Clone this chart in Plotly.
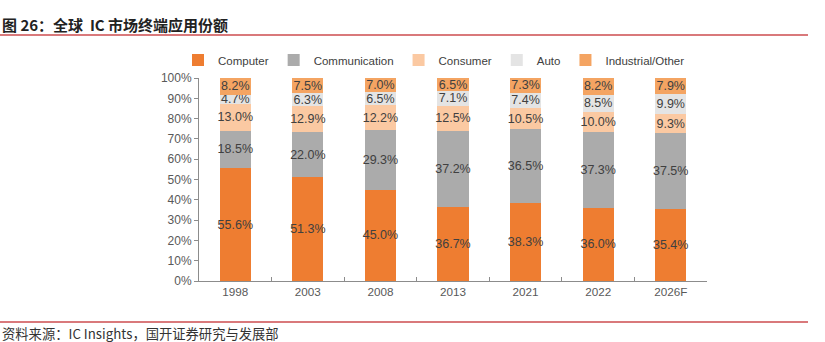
import plotly.graph_objects as go

years = ["1998", "2003", "2008", "2013", "2021", "2022", "2026F"]
computer = [55.6, 51.3, 45.0, 36.7, 38.3, 36.0, 35.4]
communication = [18.5, 22.0, 29.3, 37.2, 36.5, 37.3, 37.5]
consumer = [13.0, 12.9, 12.2, 12.5, 10.5, 10.0, 9.3]
auto = [4.7, 6.3, 6.5, 7.1, 7.4, 8.5, 9.9]
industrial = [8.2, 7.5, 7.0, 6.5, 7.3, 8.2, 7.9]

series = [
    ("Computer", computer, "#EE7D31"),
    ("Communication", communication, "#ABABAB"),
    ("Consumer", consumer, "#FBC9A2"),
    ("Auto", auto, "#E4E4E4"),
    ("Industrial/Other", industrial, "#F4A462"),
]

FONT = "Liberation Sans, Arial, sans-serif"

fig = go.Figure()
for name, vals, color in series:
    fig.add_trace(go.Bar(
        name=name, x=years, y=[v / 100 for v in vals],
        marker=dict(color=color, line=dict(width=0)),
        text=[f"{v:.1f}%" for v in vals],
        textposition="inside", insidetextanchor="middle",
        constraintext="none", textangle=0,
        textfont=dict(family=FONT, size=12.5, color="#404040"),
        hoverinfo="skip",
    ))

# Plot area: x 199..707, y 78..281
L, R, T, B = 199, 707, 78, 281
W, H = R - L, B - T
def px(x): return (x - L) / W
def py(y): return (B - y) / H

fig.update_layout(
    barmode="stack",
    bargap=0.57,
    width=825, height=342,
    margin=dict(l=L, r=825 - R, t=T, b=342 - B),
    paper_bgcolor="white", plot_bgcolor="white",
    font=dict(family=FONT, color="#595959"),
    showlegend=True,
    legend=dict(
        orientation="h", x=px(434), y=py(60), xanchor="center", yanchor="middle",
        font=dict(family=FONT, size=11.5, color="#404040"),
        itemwidth=30, tracegroupgap=0, traceorder="normal",
        bgcolor="rgba(0,0,0,0)",
    ),
    xaxis=dict(
        showline=True, linecolor="#8C8C8C", linewidth=1,
        ticks="inside", tickson="boundaries", ticklen=4, tickcolor="#8C8C8C",
        tickfont=dict(family=FONT, size=11.7, color="#595959"),
        showgrid=False, fixedrange=True,
    ),
    yaxis=dict(
        range=[0, 1], dtick=0.1, tickformat=".0%",
        showline=True, linecolor="#8C8C8C", linewidth=1,
        ticks="outside", ticklen=4, tickcolor="#8C8C8C",
        tickfont=dict(family=FONT, size=12, color="#595959"),
        showgrid=False, zeroline=False, fixedrange=True,
    ),
    shapes=[
        dict(type="line", xref="paper", yref="paper", x0=px(0), x1=px(808),
             y0=py(35), y1=py(35), line=dict(color="#D9797B", width=2)),
        dict(type="line", xref="paper", yref="paper", x0=px(0), x1=px(808),
             y0=py(322), y1=py(322), line=dict(color="#D9797B", width=2)),
    ],
    annotations=[
        dict(text="<b>图 26：全球  IC 市场终端应用份额</b>", xref="paper", yref="paper",
             x=px(0), y=py(24), xanchor="left", yanchor="middle", showarrow=False,
             font=dict(family="Noto Sans CJK SC, serif", size=15, color="#222222")),
        dict(text="资料来源：IC Insights，国开证券研究与发展部", xref="paper", yref="paper",
             x=px(0), y=py(333), xanchor="left", yanchor="middle", showarrow=False,
             font=dict(family="Noto Sans CJK SC, sans-serif", size=13.3, color="#333333")),
    ],
)

fig.write_html("out.html")
